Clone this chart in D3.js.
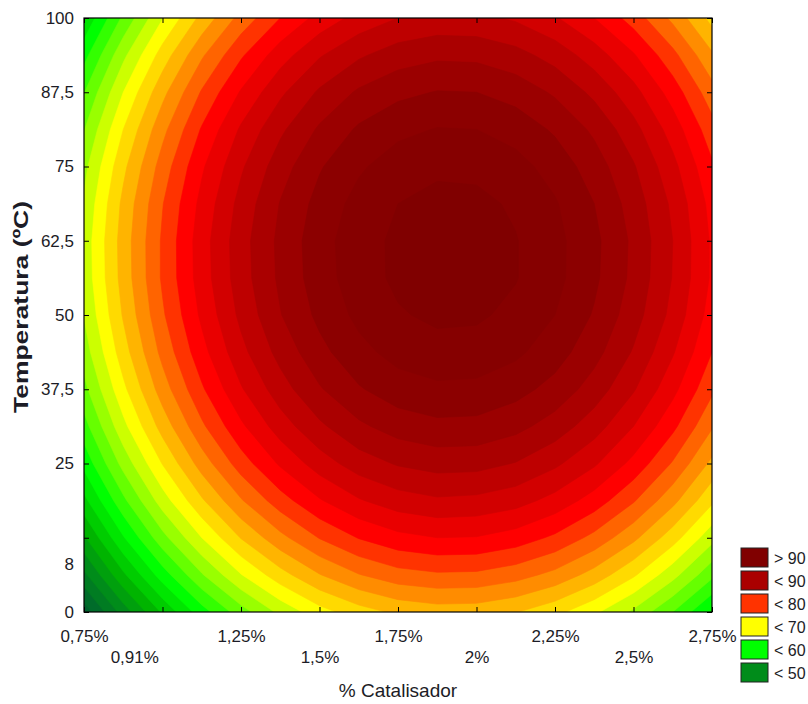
<!DOCTYPE html>
<html>
<head>
<meta charset="utf-8">
<script src="https://cdn.jsdelivr.net/npm/d3@7"></script>
<style>
  body { margin: 0; background: #fff; }
  svg text { font-family: Arial, "Liberation Sans", sans-serif; fill: #1c1c26; }
</style>
</head>
<body>
<script>
// grid of the fitted surface: columns = % catalisador, rows = temperatura
var catalisador = [0.75, 0.875, 1.0, 1.125, 1.25, 1.375, 1.5, 1.625, 1.75,
                   1.875, 2.0, 2.125, 2.25, 2.375, 2.5, 2.625, 2.75];
var temperatura = [0, 6.25, 12.5, 18.75, 25, 31.25, 37.5, 43.75, 50,
                   56.25, 62.5, 68.75, 75, 81.25, 87.5, 93.75, 100];

// response, one list per temperature row (0 -> 100)
var resp_t0     = [42.8, 48.9, 54.3, 59.1, 63.1, 66.5, 69.2, 71.1, 72.4, 73.0, 72.9, 72.1, 70.6, 68.4, 65.6, 62.0, 57.7];
var resp_t6_25  = [47.5, 53.6, 59.0, 63.8, 67.9, 71.2, 73.9, 75.9, 77.2, 77.7, 77.6, 76.8, 75.4, 73.2, 70.3, 66.7, 62.5];
var resp_t12_5  = [51.7, 57.8, 63.3, 68.0, 72.1, 75.4, 78.1, 80.1, 81.4, 82.0, 81.9, 81.1, 79.6, 77.4, 74.5, 70.9, 66.7];
var resp_t18_75 = [55.4, 61.5, 67.0, 71.7, 75.8, 79.1, 81.8, 83.8, 85.1, 85.7, 85.5, 84.8, 83.3, 81.1, 78.2, 74.6, 70.4];
var resp_t25    = [58.6, 64.7, 70.1, 74.9, 79.0, 82.3, 85.0, 87.0, 88.2, 88.8, 88.7, 87.9, 86.4, 84.3, 81.4, 77.8, 73.5];
var resp_t31_25 = [61.2, 67.4, 72.8, 77.6, 81.6, 85.0, 87.6, 89.6, 90.9, 91.5, 91.4, 90.6, 89.1, 86.9, 84.0, 80.5, 76.2];
var resp_t37_5  = [63.4, 69.5, 75.0, 79.7, 83.8, 87.1, 89.8, 91.8, 93.1, 93.6, 93.5, 92.7, 91.3, 89.1, 86.2, 82.6, 78.4];
var resp_t43_75 = [65.0, 71.1, 76.6, 81.3, 85.4, 88.7, 91.4, 93.4, 94.7, 95.3, 95.2, 94.4, 92.9, 90.7, 87.8, 84.2, 80.0];
var resp_t50    = [66.1, 72.2, 77.7, 82.4, 86.5, 89.9, 92.5, 94.5, 95.8, 96.4, 96.3, 95.5, 94.0, 91.8, 88.9, 85.4, 81.1];
var resp_t56_25 = [66.7, 72.8, 78.3, 83.0, 87.1, 90.4, 93.1, 95.1, 96.4, 97.0, 96.9, 96.1, 94.6, 92.4, 89.5, 85.9, 81.7];
var resp_t62_5  = [66.8, 72.9, 78.3, 83.1, 87.2, 90.5, 93.2, 95.2, 96.4, 97.0, 96.9, 96.1, 94.6, 92.5, 89.6, 86.0, 81.7];
var resp_t68_75 = [66.3, 72.5, 77.9, 82.6, 86.7, 90.1, 92.7, 94.7, 96.0, 96.6, 96.5, 95.7, 94.2, 92.0, 89.1, 85.6, 81.3];
var resp_t75    = [65.4, 71.5, 76.9, 81.7, 85.7, 89.1, 91.8, 93.7, 95.0, 95.6, 95.5, 94.7, 93.2, 91.0, 88.2, 84.6, 80.3];
var resp_t81_25 = [63.9, 70.0, 75.4, 80.2, 84.3, 87.6, 90.3, 92.3, 93.5, 94.1, 94.0, 93.2, 91.7, 89.6, 86.7, 83.1, 78.8];
var resp_t87_5  = [61.9, 68.0, 73.4, 78.2, 82.2, 85.6, 88.3, 90.3, 91.5, 92.1, 92.0, 91.2, 89.7, 87.5, 84.7, 81.1, 76.8];
var resp_t93_75 = [59.3, 65.5, 70.9, 75.7, 79.7, 83.1, 85.8, 87.7, 89.0, 89.6, 89.5, 88.7, 87.2, 85.0, 82.2, 78.6, 74.3];
var resp_t100   = [56.3, 62.4, 67.9, 72.6, 76.7, 80.0, 82.7, 84.7, 86.0, 86.6, 86.5, 85.7, 84.2, 82.0, 79.1, 75.5, 71.3];

// tick labels
var xLabelsRow1 = [0.75, 1.25, 1.75, 2.25, 2.75];
var xLabelsRow2 = [0.91, 1.5, 2, 2.5];
var xTickMarks  = [0.75, 1.0, 1.25, 1.5, 1.75, 2.0, 2.25, 2.5, 2.75];
var yLabels     = [0, 8, 25, 37.5, 50, 62.5, 75, 87.5, 100];
var yTickMarks  = [0, 12.5, 25, 37.5, 50, 62.5, 75, 87.5, 100];

// legend
var legendLabels = ["> 90", "< 90", "< 80", "< 70", "< 60", "< 50"];
var legendLevels = [96, 88, 78, 68, 58, 48];

// contour levels and palette
var levels = d3.range(40, 98, 2);
var colorStops = [40, 44, 48, 52, 56, 58, 62, 66, 68, 72, 76, 78, 80, 84, 88, 92, 96];
var colorList  = ["#00552f", "#006c2a", "#008c1a", "#00b400", "#00e600", "#00ff00",
                  "#66ff00", "#ccff00", "#ffff00", "#ffb400", "#ff6400", "#ff3300",
                  "#ff0000", "#d20000", "#aa0000", "#8c0000", "#800000"];

var color = d3.scaleLinear().domain(colorStops).range(colorList)
              .interpolate(d3.interpolateRgb).clamp(true);

var margin = {left: 84, top: 18};
var width = 628, height = 594;

var svg = d3.select("body").append("svg")
            .attr("width", 808).attr("height", 704);

var x = d3.scaleLinear().domain([0.75, 2.75]).range([0, width]);
var y = d3.scaleLinear().domain([0, 100]).range([height, 0]);

var chartGroup = svg.append("g")
                    .attr("transform", "translate(" + margin.left + "," + margin.top + ")");

svg.append("defs").append("clipPath").attr("id", "plotClip")
   .append("rect").attr("width", width).attr("height", height);

// flatten grid rows for d3.contours
var rows = [resp_t0, resp_t6_25, resp_t12_5, resp_t18_75, resp_t25, resp_t31_25,
            resp_t37_5, resp_t43_75, resp_t50, resp_t56_25, resp_t62_5, resp_t68_75,
            resp_t75, resp_t81_25, resp_t87_5, resp_t93_75, resp_t100];
var values = [];
rows.forEach(function(r) { r.forEach(function(v) { values.push(v); }); });

var nx = catalisador.length, ny = temperatura.length;
var xStep = catalisador[1] - catalisador[0];
var yStep = temperatura[1] - temperatura[0];

var contours = d3.contours().size([nx, ny]).thresholds(levels)(values);

var toPixels = d3.geoTransform({
  point: function(cx, cy) {
    this.stream.point(x(catalisador[0] + (cx - 0.5) * xStep),
                      y(temperatura[0] + (cy - 0.5) * yStep));
  }
});
var path = d3.geoPath(toPixels);

var plot = chartGroup.append("g").attr("clip-path", "url(#plotClip)");

plot.append("rect").attr("width", width).attr("height", height)
    .attr("fill", color(levels[0] - 2));

plot.selectAll("path.band").data(contours).enter().append("path")
    .attr("class", "band")
    .attr("d", path)
    .attr("fill", function(d) { return color(d.value); })
    .attr("stroke", function(d) { return color(d.value); })
    .attr("stroke-width", 0.6);

// frame
chartGroup.append("rect").attr("width", width).attr("height", height)
          .attr("fill", "none").attr("stroke", "#000").attr("stroke-width", 1.2);

// inward tick marks on all four sides
function tickOnly(axis) {
  return function(g) {
    g.call(axis);
    g.select(".domain").remove();
    g.selectAll("text").remove();
    g.selectAll("line").attr("stroke", "#000");
  };
}
chartGroup.append("g").attr("transform", "translate(0," + height + ")")
  .call(tickOnly(d3.axisBottom(x).tickValues(xTickMarks).tickSize(-5)));
chartGroup.append("g")
  .call(tickOnly(d3.axisTop(x).tickValues(xTickMarks).tickSize(-5)));
chartGroup.append("g")
  .call(tickOnly(d3.axisLeft(y).tickValues(yTickMarks).tickSize(-5)));
chartGroup.append("g").attr("transform", "translate(" + width + ",0)")
  .call(tickOnly(d3.axisRight(y).tickValues(yTickMarks).tickSize(-5)));

// tick labels, comma decimals
var locale = d3.formatLocale({decimal: ",", thousands: ".", grouping: [3], currency: ["", ""]});
var num = locale.format(".4~g");

function labelsOnly(axis) {
  return function(g) {
    g.call(axis);
    g.select(".domain").remove();
    g.selectAll("line").remove();
    g.selectAll("text").attr("font-size", 17).style("font-family", "Arial, 'Liberation Sans', sans-serif")
     .attr("fill", "#1c1c26");
  };
}
chartGroup.append("g").attr("transform", "translate(0," + height + ")")
  .call(labelsOnly(d3.axisBottom(x).tickValues(xLabelsRow1).tickSize(0).tickPadding(18)
        .tickFormat(function(d) { return num(d) + "%"; })));
chartGroup.append("g").attr("transform", "translate(0," + height + ")")
  .call(labelsOnly(d3.axisBottom(x).tickValues(xLabelsRow2).tickSize(0).tickPadding(39)
        .tickFormat(function(d) { return num(d) + "%"; })));
chartGroup.append("g")
  .call(labelsOnly(d3.axisLeft(y).tickValues(yLabels).tickSize(0).tickPadding(10)
        .tickFormat(num)));

// axis titles
svg.append("text")
   .attr("x", margin.left + width / 2).attr("y", 697)
   .attr("text-anchor", "middle").attr("font-size", 19)
   .text("% Catalisador");

svg.append("text")
   .attr("transform", "translate(28," + (margin.top + 289) + ") rotate(-90)")
   .attr("text-anchor", "middle").attr("font-size", 20).attr("font-weight", "bold")
   .attr("textLength", 212).attr("lengthAdjust", "spacingAndGlyphs")
   .text("Temperatura (ºC)");

// legend
var legend = svg.append("g").attr("transform", "translate(741,548)");
var items = legend.selectAll("g").data(legendLabels).enter().append("g")
   .attr("transform", function(d, i) { return "translate(0," + (i * 23) + ")"; });
items.append("rect").attr("width", 27).attr("height", 19)
   .attr("fill", function(d, i) { return color(legendLevels[i]); })
   .attr("stroke", "#222").attr("stroke-width", 1);
items.append("text").attr("x", 33).attr("y", 15.5)
   .attr("font-size", 16).text(function(d) { return d; });
</script>
</body>
</html>
